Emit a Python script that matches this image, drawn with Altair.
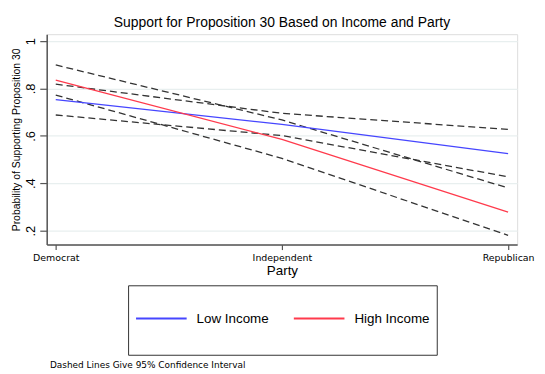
import altair as alt
import pandas as pd

parties = ["Democrat", "Independent", "Republican"]
low_est = [0.753, 0.648, 0.525]
low_lo = [0.688, 0.601, 0.427]
low_hi = [0.818, 0.695, 0.627]
high_est = [0.835, 0.585, 0.278]
high_lo = [0.772, 0.505, 0.180]
high_hi = [0.899, 0.667, 0.380]

incomes = ["Low Income", "High Income"]
colors = ["#4646ff", "#ff3a4c"]

est_rows = []
for inc, vals in zip(incomes, [low_est, high_est]):
    for p, v in zip(parties, vals):
        est_rows.append({"party": p, "value": v, "income": inc})
est = pd.DataFrame(est_rows)

ci_rows = []
for name, vals in zip(["low_lo", "low_hi", "high_lo", "high_hi"], [low_lo, low_hi, high_lo, high_hi]):
    for p, v in zip(parties, vals):
        ci_rows.append({"party": p, "value": v, "series": name})
ci = pd.DataFrame(ci_rows)

note = pd.DataFrame({"t": ["Dashed Lines Give 95% Confidence Interval"]})

x_enc = alt.X(
    "party:N", sort=parties,
    scale=alt.Scale(type="point", padding=0.04),
    axis=alt.Axis(
        title="Party", titleFont="Liberation Sans", titleFontSize=13.5, titleFontWeight="normal",
        titleColor="black", titlePadding=2,
        labelAngle=0, labelFont="DejaVu Sans", labelFontSize=9.5, labelColor="black", labelPadding=3,
        tickSize=5, tickColor="#555", domainColor="#555", domainWidth=1.5, tickWidth=1.2,
        grid=False,
    ),
)
y_enc = alt.Y(
    "value:Q",
    scale=alt.Scale(domain=[0.141, 1.029], nice=False, zero=False),
    axis=alt.Axis(
        values=[0.2, 0.4, 0.6, 0.8, 1.0],
        labelExpr="datum.value >= 0.999 ? '1' : '.' + format(datum.value * 10, '.0f')",
        labelAngle=270, labelAlign="center", labelBaseline="bottom",
        labelFont="Liberation Sans", labelFontSize=13, labelColor="black", labelPadding=2,
        tickSize=7, tickColor="#555", domainColor="#555", domainWidth=1.5, tickWidth=1.2,
        grid=True, gridColor="#e8efef", gridWidth=1.3,
        title="Probability of Supporting Proposition 30", titleFont="Liberation Sans",
        titleFontSize=10.5, titleFontWeight="normal", titleColor="black", titlePadding=3,
    ),
)

ci_lines = alt.Chart(ci).mark_line(
    color="#333333", strokeDash=[7, 4], strokeWidth=1.3
).encode(x=x_enc, y=y_enc, detail="series:N")

est_lines = alt.Chart(est).mark_line(strokeWidth=1.3).encode(
    x=x_enc, y=y_enc,
    color=alt.Color(
        "income:N",
        scale=alt.Scale(domain=incomes, range=colors),
        legend=alt.Legend(
            orient="none", legendX=82, legendY=253, direction="horizontal", title=None,
            strokeColor="#333", fillColor="white", padding=7, cornerRadius=0,
            symbolType="M-1,-1M-1,0H1M1,1", symbolSize=2601, symbolStrokeWidth=2,
            labelFont="Liberation Sans", labelFontSize=13.5, labelColor="black",
            labelOffset=9, columnPadding=21,
        ),
    ),
)

note_text = alt.Chart(note).mark_text(
    align="left", baseline="alphabetic", font="DejaVu Sans", fontSize=9, color="black"
).encode(x=alt.value(3.3), y=alt.value(336.5), text="t:N")

chart = alt.layer(ci_lines, est_lines, note_text).properties(
    width=474, height=212,
    title=alt.TitleParams(
        "Support for Proposition 30 Based on Income and Party",
        font="Liberation Sans", fontSize=14, fontWeight="normal", color="black",
        anchor="middle", baseline="bottom", offset=-10,
    ),
    autosize=alt.AutoSizeParams(type="none"),
    padding={"left": 39, "top": 25, "right": 20, "bottom": 130},
).configure_view(stroke=None).configure(background="white")

chart.save("out.html", embed_options={"renderer": "svg", "actions": False})
